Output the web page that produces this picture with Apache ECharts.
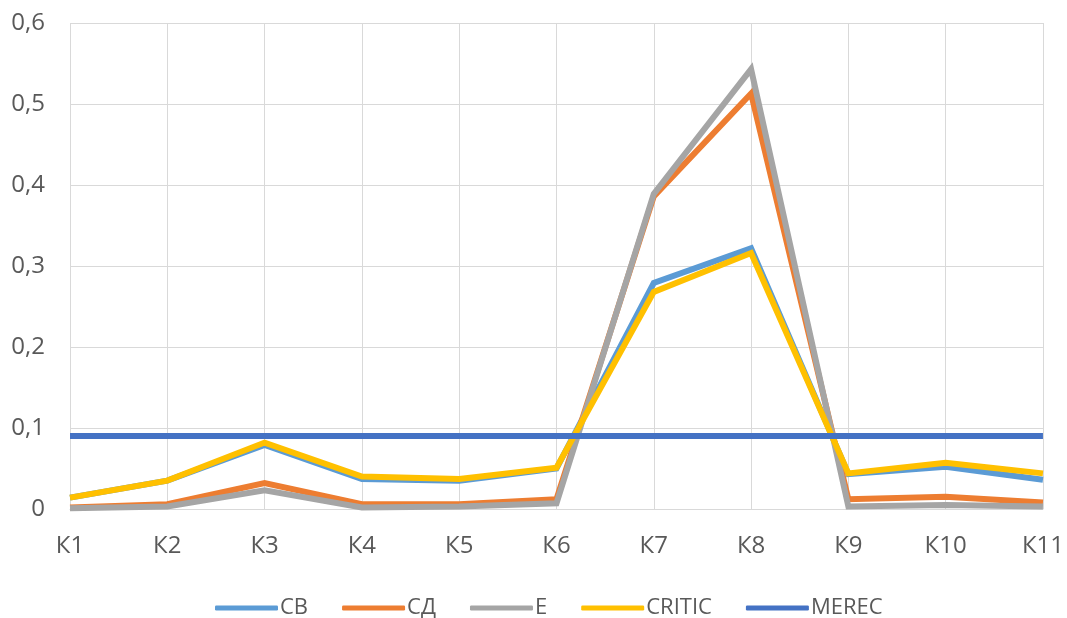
<!DOCTYPE html>
<html>
<head>
<meta charset="utf-8">
<script src="https://cdn.jsdelivr.net/npm/echarts@6/dist/echarts.min.js"></script>
<style>html,body{margin:0;padding:0;background:#fff}#c{width:1067px;height:618px}</style>
</head>
<body>
<div id="c"></div>
<script>
const categories = ['К1','К2','К3','К4','К5','К6','К7','К8','К9','К10','К11'];
const yTicks = [0, 0.1, 0.2, 0.3, 0.4, 0.5, 0.6];
const seriesNames = ['СВ','СД','Е','CRITIC','MEREC'];
const cbValues     = [0.014, 0.035, 0.079, 0.037, 0.035, 0.050, 0.279, 0.322, 0.043, 0.052, 0.036];
const cdValues     = [0.002, 0.006, 0.032, 0.006, 0.006, 0.012, 0.386, 0.513, 0.012, 0.015, 0.008];
const eValues      = [0.001, 0.003, 0.023, 0.002, 0.003, 0.007, 0.389, 0.543, 0.003, 0.005, 0.003];
const criticValues = [0.014, 0.035, 0.082, 0.040, 0.037, 0.051, 0.268, 0.316, 0.044, 0.057, 0.044];
const merecValues  = [0.09, 0.09, 0.09, 0.09, 0.09, 0.09, 0.09, 0.09, 0.09, 0.09, 0.09];

const colors = ['#5B9BD5','#ED7D31','#A5A5A5','#FFC000','#4472C4'];
const allValues = [cbValues, cdValues, eValues, criticValues, merecValues];
const font = '"Open Sans", "Noto Sans", sans-serif';

const chart = echarts.init(document.getElementById('c'), null, {renderer:'canvas'});
chart.setOption({
  animation: false,
  color: colors,
  grid: {left: 70, right: 24, top: 23, bottom: 109, containLabel: false},
  xAxis: {
    type: 'category', data: categories, boundaryGap: false,
    axisLine: {show: true, lineStyle: {color: '#d9d9d9', width: 1}},
    axisTick: {show: false},
    splitLine: {show: true, lineStyle: {color: '#d9d9d9', width: 1}},
    axisLabel: {color: '#595959', fontSize: 24, fontFamily: font, margin: 25}
  },
  yAxis: {
    type: 'value', min: yTicks[0], max: yTicks[yTicks.length-1], interval: 0.1,
    axisLine: {show: false}, axisTick: {show: false},
    splitLine: {show: true, lineStyle: {color: '#d9d9d9', width: 1}},
    axisLabel: {color: '#595959', fontSize: 24, fontFamily: font, margin: 25,
      formatter: v => String(Math.round(v*10)/10).replace('.', ',')}
  },
  legend: {
    top: 597, left: 215, icon: 'roundRect', itemWidth: 63, itemHeight: 5, itemGap: 34,
    padding: 0,
    textStyle: {color: '#595959', fontSize: 22, fontFamily: font, padding: [0,0,0,-3]},
    data: seriesNames
  },
  series: seriesNames.map((n, i) => ({
    name: n, type: 'line', data: allValues[i], symbol: 'none',
    lineStyle: {width: 6, color: colors[i], join: 'miter'},
    z: 2 + i
  }))
});
</script>
</body>
</html>
